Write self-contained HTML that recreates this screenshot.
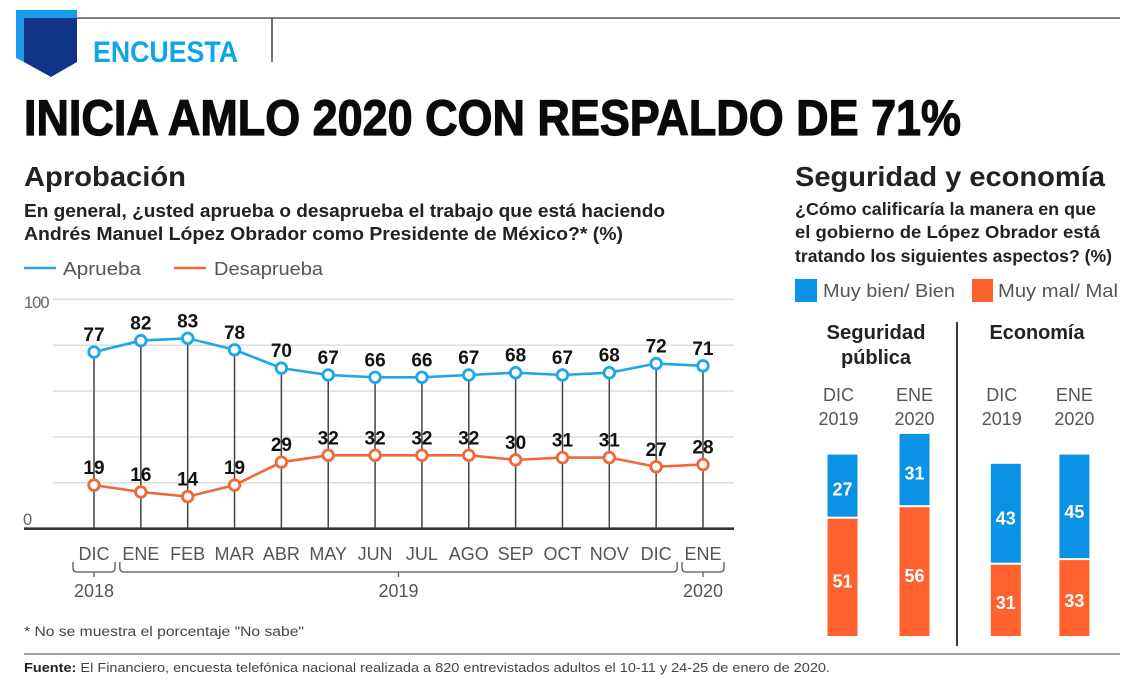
<!DOCTYPE html>
<html lang="es">
<head>
<meta charset="utf-8">
<title>Inicia AMLO 2020 con respaldo de 71%</title>
<style>
html,body{margin:0;padding:0;background:#fff;width:1125px;height:683px;overflow:hidden}
svg{display:block;font-family:"Liberation Sans",sans-serif;filter:blur(0.35px)}
</style>
</head>
<body>
<svg id="page" width="1125" height="683" viewBox="0 0 1125 683" xmlns="http://www.w3.org/2000/svg">
<rect x="0" y="0" width="1125" height="683" fill="#fff"/>
<g>
<line x1="77" y1="18" x2="1120" y2="18" stroke="#555" stroke-width="1.5"/>
<line x1="272" y1="18" x2="272" y2="62" stroke="#444" stroke-width="1.5"/>
<polygon points="16,10 77,10 77,18 24,18 24,62 16,58" fill="#1a9bec"/>
<polygon points="24,18 77,18 77,62 51,77 24,62" fill="#123487"/>
<text x="93" y="62" font-size="30" font-weight="700" fill="#0ea5ea" textLength="145" lengthAdjust="spacingAndGlyphs">ENCUESTA</text>
<text x="24" y="135" font-size="50" font-weight="700" fill="#0a0a0a" stroke="#0a0a0a" stroke-width="1.2" textLength="937" lengthAdjust="spacingAndGlyphs">INICIA AMLO 2020 CON RESPALDO DE 71%</text>
</g>
<g fill="#222">
<text x="24" y="186" font-size="28" font-weight="700" textLength="162" lengthAdjust="spacingAndGlyphs">Aprobación</text>
<text x="24" y="217" font-size="18" font-weight="700" textLength="641" lengthAdjust="spacingAndGlyphs">En general, ¿usted aprueba o desaprueba el trabajo que está haciendo</text>
<text x="24" y="240" font-size="18" font-weight="700" textLength="599" lengthAdjust="spacingAndGlyphs">Andrés Manuel López Obrador como Presidente de México?*  (%)</text>
</g>
<g font-size="18" fill="#555">
<line x1="24" y1="268" x2="56" y2="268" stroke="#1ea7e8" stroke-width="2.5"/>
<text x="63" y="275" textLength="78" lengthAdjust="spacingAndGlyphs">Aprueba</text>
<line x1="174" y1="268" x2="206" y2="268" stroke="#f0683a" stroke-width="2.5"/>
<text x="214" y="275" textLength="109" lengthAdjust="spacingAndGlyphs">Desaprueba</text>
</g>
<g id="line-chart"></g>
<g fill="#222">
<text x="795" y="186" font-size="28" font-weight="700" textLength="310" lengthAdjust="spacingAndGlyphs">Seguridad y economía</text>
<text x="795" y="215" font-size="17.5" font-weight="700" textLength="301" lengthAdjust="spacingAndGlyphs">¿Cómo calificaría la manera en que</text>
<text x="795" y="238" font-size="17.5" font-weight="700" textLength="305" lengthAdjust="spacingAndGlyphs">el gobierno de López Obrador está</text>
<text x="795" y="262" font-size="17.5" font-weight="700" textLength="317" lengthAdjust="spacingAndGlyphs">tratando los siguientes aspectos? (%)</text>
</g>
<g font-size="18" fill="#555">
<rect x="795" y="279" width="22" height="23" fill="#0a93e6"/>
<text x="823" y="297" textLength="132" lengthAdjust="spacingAndGlyphs">Muy bien/ Bien</text>
<rect x="972" y="279" width="21" height="23" fill="#ff622e"/>
<text x="998" y="297" textLength="120" lengthAdjust="spacingAndGlyphs">Muy mal/ Mal</text>
</g>
<g font-size="20" font-weight="700" fill="#222" text-anchor="middle">
<text x="876" y="339" textLength="99" lengthAdjust="spacingAndGlyphs">Seguridad</text>
<text x="876" y="364" textLength="70" lengthAdjust="spacingAndGlyphs">pública</text>
<text x="1037" y="339" textLength="95" lengthAdjust="spacingAndGlyphs">Economía</text>
</g>
<line x1="957" y1="322" x2="957" y2="646" stroke="#222" stroke-width="1.8"/>
<g id="bar-chart"></g>
<text x="24" y="636" font-size="13.5" fill="#444" textLength="280" lengthAdjust="spacingAndGlyphs">* No se muestra el porcentaje "No sabe"</text>
<line x1="24" y1="654" x2="1120" y2="654" stroke="#666" stroke-width="1.2"/>
<text x="24" y="672" font-size="13" fill="#444" textLength="806" lengthAdjust="spacingAndGlyphs"><tspan font-weight="700" fill="#222">Fuente:</tspan> El Financiero, encuesta telefónica nacional realizada a 820 entrevistados adultos el 10-11 y 24-25 de enero de 2020.</text>
</svg>
<script>
var months = ['DIC','ENE','FEB','MAR','ABR','MAY','JUN','JUL','AGO','SEP','OCT','NOV','DIC','ENE'];
var aprueba = [77,82,83,78,70,67,66,66,67,68,67,68,72,71];
var desaprueba = [19,16,14,19,29,32,32,32,32,30,31,31,27,28];
var gridTicks = [0,20,40,60,80,100];
var axisLabels = [0,100];
var barPeriods = [['DIC','2019'],['ENE','2020'],['DIC','2019'],['ENE','2020']];
var barFavorable = [27,31,43,45];
var barUnfavorable = [51,56,31,33];

var NS = 'http://www.w3.org/2000/svg';
function make(parent, tag, attrs, text) {
  var e = document.createElementNS(NS, tag);
  for (var k in attrs) e.setAttribute(k, attrs[k]);
  if (text !== undefined) e.textContent = text;
  parent.appendChild(e);
  return e;
}
function xScale(i) { return 94 + i * (703 - 94) / (months.length - 1); }
function yScale(v) { return 528.7 - v * 2.294; }

var chart = document.getElementById('line-chart');

gridTicks.forEach(function (t) {
  if (t === 0) return;
  var g = make(chart, 'line', {x1: 53, x2: 734, y1: yScale(t), y2: yScale(t), stroke: '#dadada', 'stroke-width': 1.4});
  
  
});

axisLabels.forEach(function (t) {
  var l = make(chart, 'text', {x: t === 0 ? 23 : 24, y: t === 0 ? 525 : 308, 'font-size': 16.5, 'letter-spacing': -1, fill: '#666'}, String(t));
  
  
});

months.forEach(function (m, i) {
  var s = make(chart, 'line', {x1: xScale(i), x2: xScale(i), y1: yScale(aprueba[i]), y2: yScale(0), stroke: '#444', 'stroke-width': 1.5});
  
  
  var t = make(chart, 'text', {x: xScale(i), y: 560, 'font-size': 18, fill: '#555', 'text-anchor': 'middle'}, m);
  
  
});

var axis = make(chart, 'line', {x1: 24, x2: 734, y1: yScale(0), y2: yScale(0), stroke: '#333', 'stroke-width': 2.6});



function drawSeries(values, color, name) {
  var pts = values.map(function (v, i) { return xScale(i) + ',' + yScale(v); }).join(' ');
  var line = make(chart, 'polyline', {points: pts, fill: 'none', stroke: color, 'stroke-width': 2.6});
  
  
  values.forEach(function (v, i) {
    var c = make(chart, 'circle', {cx: xScale(i), cy: yScale(v), r: 5.3, fill: '#fff', stroke: color, 'stroke-width': 2.8});
    
    
    var t = make(chart, 'text', {x: xScale(i), y: yScale(v) - 11, 'font-size': 19, 'font-weight': 700, fill: '#111', 'text-anchor': 'middle'}, String(v));
    
    
  });
}
drawSeries(aprueba, '#1ea7e8', 'aprueba');
drawSeries(desaprueba, '#f0683a', 'desaprueba');

var years = [
  {label: '2018', from: 0, to: 0},
  {label: '2019', from: 1, to: 12},
  {label: '2020', from: 13, to: 13}
];
years.forEach(function (y) {
  var a = xScale(y.from) - 21, b = xScale(y.to) + 21;
  var mid = (a + b) / 2;
  var d = 'M' + a + ' 562 v6 q0 4 4 4 H' + (b - 4) + ' q4 0 4 -4 v-6 M' + mid + ' 572 v5';
  var p = make(chart, 'path', {d: d, fill: 'none', stroke: '#555', 'stroke-width': 1.3});
  
  
  var t = make(chart, 'text', {x: mid, y: 597, 'font-size': 18, fill: '#555', 'text-anchor': 'middle'}, y.label);
  
  
});

var bars = document.getElementById('bar-chart');
var barBaseline = 636, barUnit = 2.3, barGap = 2, barWidth = 30;
function barX(i) { return i < 2 ? 827.5 + i * 72 : 990.8 + (i - 2) * 68.6; }

barPeriods.forEach(function (p, i) {
  var cx = barX(i) + barWidth / 2;
  var l1 = make(bars, 'text', {x: cx - (i % 2 ? 0 : 4), y: 401, 'font-size': 18, fill: '#555', 'text-anchor': 'middle'}, p[0]);
  
  
  var l2 = make(bars, 'text', {x: cx - (i % 2 ? 0 : 4), y: 425, 'font-size': 18, fill: '#555', 'text-anchor': 'middle'}, p[1]);
  
  

  var hU = barUnfavorable[i] * barUnit;
  var hF = barFavorable[i] * barUnit;
  var yU = barBaseline - hU;
  var yF = yU - barGap - hF;

  var rU = make(bars, 'rect', {x: barX(i), y: yU, width: barWidth, height: hU, fill: '#ff622e'});
  
  
  var rF = make(bars, 'rect', {x: barX(i), y: yF, width: barWidth, height: hF, fill: '#0a93e6'});
  
  

  var tU = make(bars, 'text', {x: cx, y: yU + hU * 0.53 + 6.5, 'font-size': 18, 'font-weight': 700, fill: '#fff', 'text-anchor': 'middle'}, String(barUnfavorable[i]));
  
  
  var tF = make(bars, 'text', {x: cx, y: yF + hF * 0.55 + 6.5, 'font-size': 18, 'font-weight': 700, fill: '#fff', 'text-anchor': 'middle'}, String(barFavorable[i]));
  
  
});
</script>
</body>
</html>
